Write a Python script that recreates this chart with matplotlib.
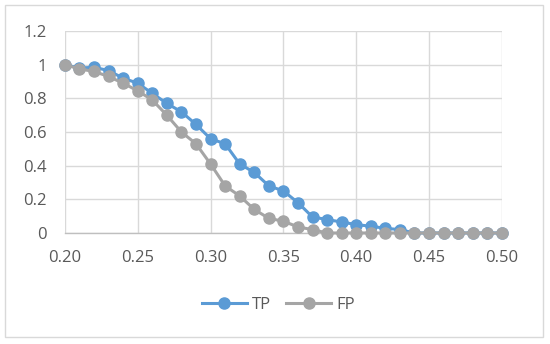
"""TP / FP rate against threshold, Excel-style line chart."""
import matplotlib
matplotlib.use("Agg")

import matplotlib.pyplot as plt
from matplotlib.patches import Rectangle

THRESHOLDS = [0.20, 0.21, 0.22, 0.23, 0.24, 0.25, 0.26, 0.27, 0.28, 0.29,
              0.30, 0.31, 0.32, 0.33, 0.34, 0.35, 0.36, 0.37, 0.38, 0.39,
              0.40, 0.41, 0.42, 0.43, 0.44, 0.45, 0.46, 0.47, 0.48, 0.49,
              0.50]
TP = [1.0, 0.98, 0.985, 0.965, 0.92, 0.89, 0.83, 0.77, 0.72, 0.645,
      0.56, 0.53, 0.41, 0.36, 0.28, 0.25, 0.18, 0.095, 0.08, 0.065,
      0.05, 0.04, 0.028, 0.02, 0, 0, 0, 0, 0, 0,
      0]
FP = [1.0, 0.975, 0.96, 0.93, 0.89, 0.845, 0.79, 0.70, 0.60, 0.53,
      0.41, 0.28, 0.22, 0.14, 0.087, 0.07, 0.036, 0.02, 0, 0,
      0, 0, 0, 0, 0, 0, 0, 0, 0, 0,
      0]
X_TICKS = [0.20, 0.25, 0.30, 0.35, 0.40, 0.45, 0.50]
Y_TICKS = [0, 0.2, 0.4, 0.6, 0.8, 1.0, 1.2]
Y_LABELS = ['0', '0.2', '0.4', '0.6', '0.8', '1', '1.2']

_BLUE = '#5B9BD5'
_GREY = '#A5A5A5'
_TEXT = '#595959'

plt.rcParams['font.family'] = ['Open Sans', 'DejaVu Sans']

fig = plt.figure(figsize=(5.5, 3.44), dpi=100)
ax = fig.add_axes([0.118, 0.3227, 0.7945, 0.587])

ax.plot(THRESHOLDS, TP, color=_BLUE, lw=2.2, marker='o', ms=8,
        label='TP', zorder=3, clip_on=False)
ax.plot(THRESHOLDS, FP, color=_GREY, lw=2.2, marker='o', ms=8,
        label='FP', zorder=4, clip_on=False)

ax.set_xlim(0.20, 0.50)
ax.set_ylim(0, 1.2)
ax.set_xticks(X_TICKS)
ax.set_xticklabels(['%.2f' % x for x in X_TICKS])
ax.set_yticks(Y_TICKS)
ax.set_yticklabels(Y_LABELS)
ax.tick_params(length=0, labelsize=12, labelcolor=_TEXT)
ax.tick_params(axis='y', pad=13)
ax.tick_params(axis='x', pad=12)
ax.grid(True, color='#D9D9D9', lw=1)
ax.set_axisbelow(True)
for side in ['top', 'right', 'left']:
  ax.spines[side].set_visible(False)
ax.spines['bottom'].set_color('#BFBFBF')
ax.spines['bottom'].set_linewidth(1)

leg = fig.legend(loc='center', bbox_to_anchor=(0.506, 0.113), ncol=2,
                 frameon=False, fontsize=12, handlelength=2.7,
                 columnspacing=0.9, handletextpad=0.3)
for text in leg.get_texts():
  text.set_color(_TEXT)

fig.patches.append(Rectangle((0.009, 0.0203), 0.978, 0.965,
                             transform=fig.transFigure, fill=False,
                             edgecolor='#D9D9D9', lw=1))

fig.savefig('out.png', dpi=100)
